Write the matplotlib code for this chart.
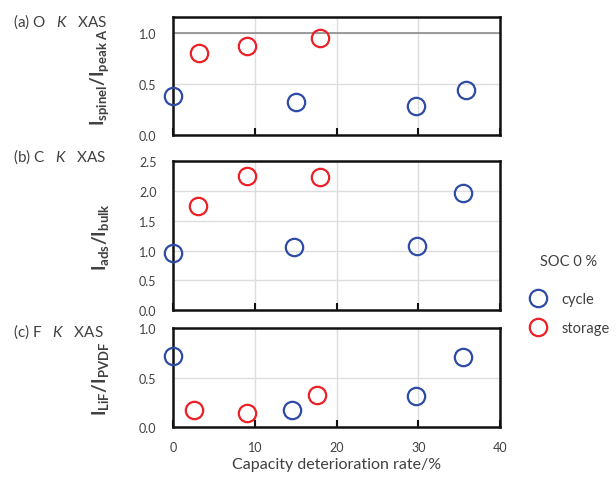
import matplotlib.pyplot as plt

plt.rcParams['font.family'] = ['Lato', 'DejaVu Sans']
plt.rcParams['mathtext.fontset'] = 'custom'
plt.rcParams['mathtext.rm'] = 'Lato'
plt.rcParams['mathtext.it'] = 'Lato:italic'
plt.rcParams['mathtext.bf'] = 'Lato:bold'

BLUE = '#2E4CA6'
RED = '#EC2027'
TEXT = '#404040'
GRID = '#DDDDDD'

# (a) O K XAS
a_cycle_x = [0, 15, 29.7, 35.8]
a_cycle_y = [0.38, 0.32, 0.28, 0.44]
a_storage_x = [3.2, 9.0, 18.0]
a_storage_y = [0.80, 0.87, 0.95]

# (b) C K XAS
b_cycle_x = [0, 14.8, 29.8, 35.5]
b_cycle_y = [0.96, 1.06, 1.07, 1.96]
b_storage_x = [3.0, 9.0, 18.0]
b_storage_y = [1.74, 2.25, 2.24]

# (c) F K XAS
c_cycle_x = [0, 14.6, 29.7, 35.5]
c_cycle_y = [0.72, 0.17, 0.31, 0.71]
c_storage_x = [2.6, 9.0, 17.6]
c_storage_y = [0.17, 0.14, 0.32]

# title text, ylabel, data, ymax, yticks, axes rect, title y (fig fraction)
panels = [
    ('(a) O   $\\mathit{K}$   XAS', r'$\mathbf{I_{spinel}/I_{peak\ A}}$',
     a_cycle_x, a_cycle_y, a_storage_x, a_storage_y, 1.15, [0.0, 0.5, 1.0],
     [0.281, 0.717, 0.531, 0.245], 1 - 22 / 481),
    ('(b) C   $\\mathit{K}$   XAS', r'$\mathbf{I_{ads}/I_{bulk}}$',
     b_cycle_x, b_cycle_y, b_storage_x, b_storage_y, 2.5,
     [0.0, 0.5, 1.0, 1.5, 2.0, 2.5],
     [0.281, 0.353, 0.531, 0.310], 1 - 157 / 481),
    ('(c) F   $\\mathit{K}$   XAS', r'$\mathbf{I_{LiF}/I_{PVDF}}$',
     c_cycle_x, c_cycle_y, c_storage_x, c_storage_y, 1.0, [0.0, 0.5, 1.0],
     [0.281, 0.110, 0.531, 0.206], 1 - 332 / 481),
]

fig = plt.figure(figsize=(6.16, 4.81), dpi=100)

mk = dict(linestyle='none', marker='o', markersize=12.5, markeredgewidth=1.6,
          markerfacecolor='none', clip_on=False, zorder=5)

for i, (title, ylabel, cx, cy, sx, sy, ytop, yticks, pos, ty) in enumerate(panels):
    ax = fig.add_axes(pos)
    ax.plot(cx, cy, markeredgecolor=BLUE, label='cycle', **mk)
    ax.plot(sx, sy, markeredgecolor=RED, label='storage', **mk)
    ax.set_xlim(0, 40)
    ax.set_ylim(0, ytop)
    ax.set_xticks([0, 10, 20, 30, 40])
    ax.set_yticks(yticks)
    ax.set_yticklabels([f'{v:.1f}' for v in yticks])
    ax.grid(True, color=GRID, lw=1.0)
    ax.set_axisbelow(True)
    if i == 0:
        ax.axhline(1.0, color='#8C8C8C', lw=1.2, zorder=2)
    for sp in ax.spines.values():
        sp.set_linewidth(1.8)
        sp.set_color('#111111')
    ax.tick_params(axis='x', direction='in', length=5, width=1.5,
                   colors='#111111', labelcolor=TEXT, labelsize=9, pad=10)
    ax.tick_params(axis='y', length=0, labelsize=9, labelcolor=TEXT, pad=12)
    if i < 2:
        ax.tick_params(axis='x', labelbottom=False)
    else:
        ax.set_xlabel('Capacity deterioration rate/%', fontsize=11.5,
                      color=TEXT, labelpad=3)
    ax.set_ylabel(ylabel, fontsize=13.5, color=TEXT, labelpad=20)
    fig.text(0.021, ty, title, fontsize=11, color=TEXT, ha='left', va='center')
    if i == 1:
        leg_ax = ax

fig.text(540 / 616, 1 - 262 / 481, 'SOC 0 %', fontsize=10.5, color=TEXT,
         ha='left', va='center')
handles, labels = leg_ax.get_legend_handles_labels()
leg = fig.legend(handles, labels, loc='upper left',
                 bbox_to_anchor=(0.838, 1 - 280 / 481),
                 frameon=False, fontsize=10.5, handletextpad=1.0,
                 labelspacing=1.0, handlelength=1.2)
for t in leg.get_texts():
    t.set_color(TEXT)

fig.savefig('out.png', dpi=100, facecolor='white')
